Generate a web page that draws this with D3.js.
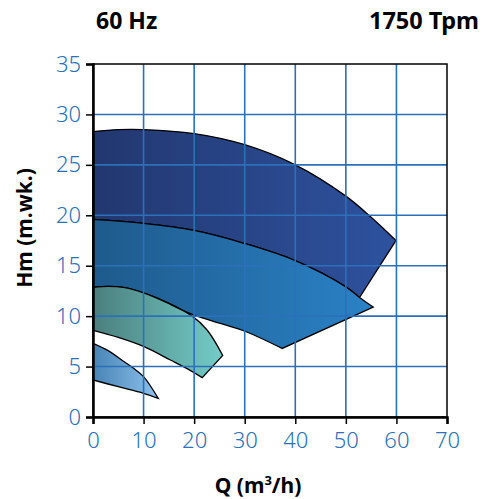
<!DOCTYPE html>
<html><head><meta charset="utf-8">
<script src="https://cdn.jsdelivr.net/npm/d3@7"></script>
<style>html,body{margin:0;padding:0;background:#fff;}svg{display:block;font-family:"Noto Sans",sans-serif;}</style>
</head><body><div id="chart"></div>
<script>
// ---- data ----
const xTicks = [0,10,20,30,40,50,60,70];
const yTicks = [0,5,10,15,20,25,30,35];
const titleLeft = "60 Hz";
const titleRight = "1750 Tpm";
// Region 1 (largest)
const r1Top = [[0,28.3],[5,28.5],[10,28.5],[20,28.1],[30,27.0],[40,25.0],[50,21.9],[55,19.8],[59.9,17.5]];
const r1Bottom = [[0,19.6],[10,19.2],[20,18.5],[30,17.2],[40,15.5],[50,12.9],[52.7,11.85]];
// Region 2
const r2Top = [[0,19.6],[10,19.2],[20,18.5],[30,17.2],[40,15.5],[50,12.9],[52.7,11.85],[55.4,10.9]];
const r2Bottom = [[0,12.85],[3,12.95],[6,12.85],[10,12.3],[15,11.3],[18.3,10.45],[20,10.1],[25,9.3],[29.8,8.55],[37.4,6.8]];
// Region 3
const r3Top = [[0,12.85],[3,12.95],[6,12.85],[10,12.3],[14.7,11.3],[19.5,10.05],[22.6,8.6],[25.65,6.1]];
const r3Bottom = [[0,8.6],[5,7.9],[10,7.0],[15.3,5.65],[19.3,4.6],[21.6,3.9]];
// Region 4 (smallest)
const r4Top = [[0,7.3],[2.9,6.6],[6.1,5.5],[8.1,4.8],[10,4.0],[12.9,1.85]];
const r4Bottom = [[0,3.67],[5,3.0],[10,2.35],[12.9,1.85]];
const regionColors = [
  ["#22376f","#2e529f"],
  ["#1e5a8b","#2a82c6"],
  ["#4a7f7d","#74ccc8"],
  ["#4884b6","#8dc2ec"]
];

// ---- layout ----
const W = 490, H = 499;
const x = d3.scaleLinear().domain([0,70]).range([93,447]);
const y = d3.scaleLinear().domain([0,35]).range([417,64]);
const blue = "#2b70b9";

const svg = d3.select("#chart").append("svg").attr("width",W).attr("height",H);
const defs = svg.append("defs");
regionColors.forEach((c,i)=>{
  const g = defs.append("linearGradient").attr("id","g"+i).attr("x1","0").attr("x2","1").attr("y1","0").attr("y2","0");
  g.append("stop").attr("offset","0").attr("stop-color",c[0]);
  g.append("stop").attr("offset","1").attr("stop-color",c[1]);
});

const line = d3.line().x(d=>x(d[0])).y(d=>y(d[1])).curve(d3.curveCatmullRom.alpha(0.5));
function regionPath(top, bottom){
  const a = line(top);
  const rev = bottom.slice().reverse();
  const b = line(rev).replace(/^M/,"L");
  return a + b + "Z";
}
const regions = [[r1Top,r1Bottom],[r2Top,r2Bottom],[r3Top,r3Bottom],[r4Top,r4Bottom]];
const gR = svg.append("g");
regions.forEach((r,i)=>{
  gR.append("path").attr("d",regionPath(r[0],r[1]))
    .attr("fill","url(#g"+i+")").attr("stroke","#000").attr("stroke-width",1.3)
    .attr("stroke-linejoin","miter");
});

// grid (over regions)
const gG = svg.append("g").attr("stroke",blue).attr("stroke-width",1.6);
xTicks.filter(v=>v>0&&v<70).forEach(v=>{
  gG.append("line").attr("x1",x(v)).attr("x2",x(v)).attr("y1",y(35)).attr("y2",y(0));
});
yTicks.filter(v=>v>0&&v<35).forEach(v=>{
  gG.append("line").attr("x1",x(0)).attr("x2",x(70)).attr("y1",y(v)).attr("y2",y(v));
});

// frame
svg.append("rect").attr("x",x(0)).attr("y",y(35)).attr("width",x(70)-x(0)).attr("height",y(0)-y(35))
  .attr("fill","none").attr("stroke","#000").attr("stroke-width",1.5);

// axes
const xAxis = svg.append("g").attr("transform",`translate(0,${y(0)})`)
  .call(d3.axisBottom(x).tickValues(xTicks).tickSize(7).tickPadding(8));
const yAxis = svg.append("g").attr("transform",`translate(${x(0)},0)`)
  .call(d3.axisLeft(y).tickValues(yTicks).tickSize(7).tickPadding(5));
[xAxis,yAxis].forEach(a=>{
  a.select(".domain").attr("stroke","#000").attr("stroke-width",2.5);
  a.selectAll(".tick line").attr("stroke","#000").attr("stroke-width",1.5);
  a.selectAll(".tick text").attr("fill",blue).style("font-size","22px")
    .style("font-family","'Noto Sans',sans-serif").style("font-weight","300");
});

// titles
svg.append("text").attr("x",96).attr("y",29).text(titleLeft)
  .style("font-weight","bold").style("font-size","23px").attr("fill","#000");
svg.append("text").attr("x",479).attr("y",29).attr("text-anchor","end").text(titleRight)
  .style("font-weight","bold").style("font-size","23.5px").attr("fill","#000");
const xt = svg.append("text").attr("x",258).attr("y",493).attr("text-anchor","middle")
  .style("font-weight","bold").style("font-size","21px").attr("fill","#000");
xt.append("tspan").text("Q (m");
xt.append("tspan").text("3").attr("dy",-8).style("font-size","13px");
xt.append("tspan").text("/h)").attr("dy",8);
svg.append("text").attr("transform","translate(32,228) rotate(-90)").attr("text-anchor","middle")
  .text("Hm (m.wk.)").style("font-weight","bold").style("font-size","21px").attr("fill","#000");
</script></body></html>
